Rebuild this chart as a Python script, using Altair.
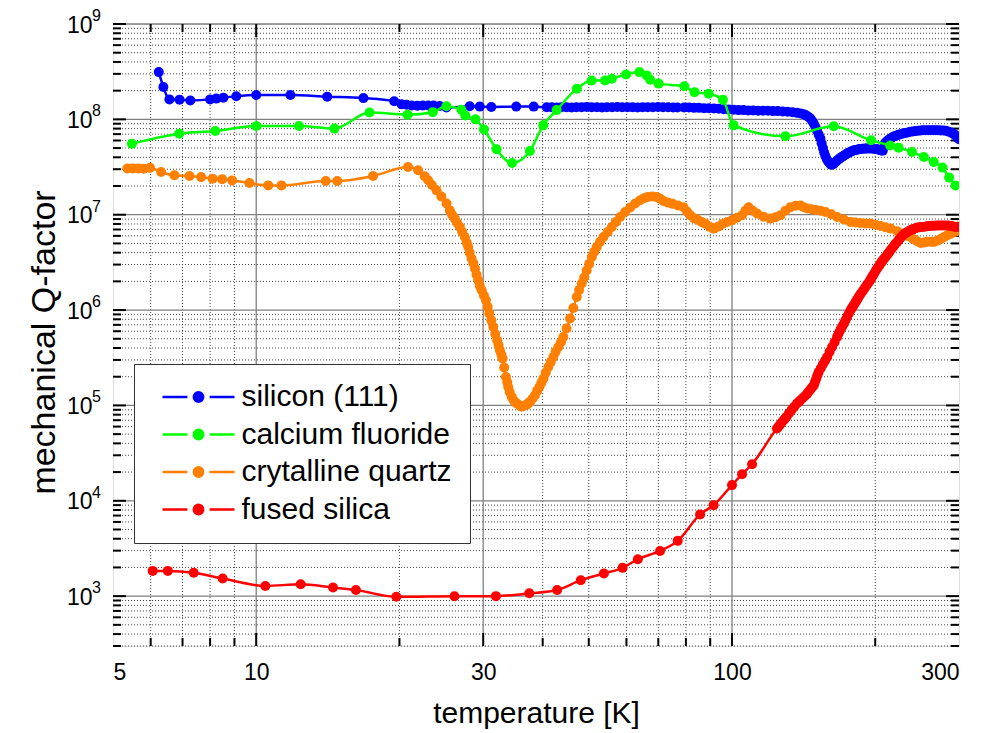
import altair as alt
import pandas as pd

SERIES = ["silicon (111)", "calcium fluoride", "crytalline quartz", "fused silica"]
COLORS = ["#0000ff", "#00ff00", "#ff8000", "#ff0000"]

# (temperature [K], Q) readings taken from the figure
SILICON = [
    (6.24, 3.13e8), (6.38, 2.18e8), (6.57, 1.62e8), (6.90, 1.61e8), (7.27, 1.58e8),
    (8.0, 1.62e8), (8.24, 1.65e8), (8.53, 1.69e8), (9.08, 1.75e8), (10.0, 1.80e8),
    (11.8, 1.80e8), (14.1, 1.73e8), (16.8, 1.67e8), (19.5, 1.55e8), (20.2, 1.44e8),
    (20.7, 1.42e8), (21.2, 1.40e8), (21.8, 1.39e8), (22.4, 1.40e8), (23.0, 1.40e8),
    (23.6, 1.40e8), (24.3, 1.38e8), (25.1, 1.33e8), (28.1, 1.37e8), (29.5, 1.36e8),
    (31.2, 1.35e8), (35.2, 1.36e8), (38.3, 1.36e8), (40.8, 1.34e8), (41.8, 1.34e8),
    (42.8, 1.33e8), (43.8, 1.34e8), (44.9, 1.34e8), (46.0, 1.33e8), (47.1, 1.34e8),
    (48.3, 1.34e8), (49.5, 1.35e8), (50.7, 1.34e8), (52.0, 1.34e8), (53.3, 1.33e8),
    (54.6, 1.34e8), (56.0, 1.34e8), (57.4, 1.35e8), (58.8, 1.34e8), (60.3, 1.34e8),
    (61.8, 1.34e8), (63.3, 1.33e8), (64.9, 1.34e8), (66.5, 1.34e8), (68.2, 1.34e8),
    (69.9, 1.35e8), (71.6, 1.34e8), (73.4, 1.34e8), (75.2, 1.33e8), (76.8, 1.33e8),
    (79.3, 1.33e8), (81.2, 1.33e8), (83.2, 1.32e8), (85.2, 1.32e8), (87.3, 1.31e8),
    (89.4, 1.31e8), (91.6, 1.30e8), (93.8, 1.29e8), (96.1, 1.28e8), (98.4, 1.27e8),
    (100.8, 1.26e8), (103.2, 1.25e8), (105.7, 1.25e8), (108.2, 1.24e8), (110.8, 1.24e8),
    (113.5, 1.23e8), (116.2, 1.23e8), (119.0, 1.23e8), (121.9, 1.22e8), (124.8, 1.22e8),
    (127.8, 1.21e8), (130.8, 1.20e8), (133.9, 1.19e8), (137.0, 1.17e8), (139.5, 1.15e8),
    (141.5, 1.13e8), (142.7, 1.11e8), (144.0, 1.08e8), (145.1, 1.05e8), (146.2, 1.02e8),
    (147.4, 9.6e7), (148.6, 9.0e7), (149.8, 8.3e7), (151.0, 7.6e7), (152.2, 6.9e7),
    (153.4, 6.3e7), (154.3, 5.6e7), (155.3, 5.0e7), (156.2, 4.5e7), (157.2, 4.1e7),
    (158.3, 3.8e7), (159.4, 3.6e7), (160.5, 3.45e7), (161.6, 3.35e7), (162.8, 3.37e7),
    (164.0, 3.45e7), (165.1, 3.57e7), (166.3, 3.7e7), (167.4, 3.8e7), (168.5, 3.9e7),
    (169.5, 3.98e7), (170.5, 4.05e7), (171.7, 4.15e7), (173.0, 4.25e7), (174.3, 4.35e7),
    (175.6, 4.45e7), (176.8, 4.53e7), (178.0, 4.6e7), (179.2, 4.67e7), (180.4, 4.73e7),
    (181.8, 4.77e7), (183.3, 4.8e7), (184.7, 4.85e7), (186.2, 4.9e7), (187.7, 4.92e7),
    (189.2, 4.93e7), (190.7, 4.94e7), (192.3, 4.95e7), (193.9, 4.95e7), (195.5, 4.95e7),
    (197.1, 4.94e7), (198.8, 4.93e7), (200.4, 4.9e7), (202.0, 4.85e7), (203.5, 4.8e7),
    (205.0, 4.75e7), (206.2, 4.72e7), (207.5, 4.7e7), (209.5, 5.6e7), (210.9, 5.8e7),
    (212.4, 6.0e7), (213.9, 6.15e7), (215.4, 6.3e7), (217.1, 6.45e7), (218.8, 6.6e7),
    (220.6, 6.7e7), (222.4, 6.8e7), (224.2, 6.9e7), (226.0, 7.0e7), (228.7, 7.1e7),
    (231.4, 7.2e7), (234.2, 7.3e7), (237.0, 7.4e7), (240.0, 7.48e7), (243.0, 7.55e7),
    (246.0, 7.6e7), (249.0, 7.65e7), (252.1, 7.68e7), (255.2, 7.7e7), (258.4, 7.7e7),
    (261.6, 7.7e7), (264.8, 7.7e7), (268.0, 7.7e7), (271.2, 7.68e7), (274.5, 7.65e7),
    (277.9, 7.63e7), (281.3, 7.6e7), (284.7, 7.45e7), (288.2, 7.3e7), (290.6, 7.15e7),
    (293.0, 7.0e7), (295.3, 6.75e7), (297.7, 6.5e7), (300.0, 6.2e7),
]

CAF2 = [
    (5.48, 5.56e7), (6.89, 7.08e7), (8.2, 7.54e7), (10.0, 8.5e7), (12.3, 8.5e7),
    (14.6, 8.0e7), (17.3, 1.18e8), (20.8, 1.12e8), (23.5, 1.19e8), (25.1, 1.37e8),
    (27.0, 1.26e8), (27.5, 1.10e8), (28.9, 1.0e8), (30.1, 7.85e7), (32.0, 4.85e7),
    (34.5, 3.48e7), (37.6, 4.66e7), (40.1, 8.65e7), (42.8, 1.25e8), (47.2, 2.1e8),
    (50.7, 2.56e8), (54.1, 2.56e8), (55.9, 2.67e8), (59.9, 2.96e8), (63.9, 3.13e8),
    (66.2, 2.89e8), (67.3, 2.6e8), (70.1, 2.37e8), (79.4, 2.22e8), (83.4, 1.93e8),
    (89.3, 1.86e8), (95.7, 1.61e8), (100.8, 8.65e7), (129.5, 6.64e7), (163.6, 8.45e7),
    (196.0, 6.03e7), (215.0, 5.33e7), (224.0, 5.05e7), (239.0, 4.54e7), (253.0, 4.03e7),
    (265.5, 3.57e7), (277.0, 3.12e7), (286.0, 2.45e7), (295.0, 2.03e7),
]

QUARTZ = [
    (5.36, 3.05e7), (5.5, 3.06e7), (5.65, 3.05e7), (5.8, 3.04e7), (5.98, 3.1e7),
    (6.31, 2.8e7), (6.73, 2.59e7), (7.24, 2.55e7), (7.66, 2.48e7), (8.1, 2.39e7),
    (8.48, 2.36e7), (8.9, 2.29e7), (9.68, 2.15e7), (10.6, 2.03e7), (11.3, 2.03e7),
    (14.0, 2.26e7), (14.8, 2.26e7), (17.6, 2.55e7), (20.85, 3.16e7), (21.89, 2.92e7),
    (22.6, 2.53e7), (22.98, 2.30e7), (23.4, 2.05e7), (23.93, 1.80e7), (24.5, 1.55e7),
    (25.12, 1.31e7), (25.52, 1.11e7), (25.8, 1.0e7), (26.15, 9.1e6), (26.45, 8.2e6),
    (26.79, 7.43e6), (27.1, 6.6e6), (27.45, 5.83e6), (27.7, 5.1e6), (27.9, 4.58e6),
    (28.1, 4.0e6), (28.36, 3.47e6), (28.6, 3.1e6), (28.83, 2.72e6), (29.05, 2.35e6),
    (29.29, 2.05e6), (29.5, 1.8e6), (29.78, 1.61e6), (30.1, 1.42e6), (30.4, 1.27e6),
    (30.65, 1.08e6), (30.89, 9.2e5), (31.2, 7.8e5), (31.49, 6.65e5), (31.8, 5.6e5),
    (32.1, 4.82e5), (32.3, 4.3e5), (32.52, 3.78e5), (32.75, 3.4e5), (32.95, 3.1e5),
    (33.2, 2.5e5), (33.48, 1.99e5), (33.7, 1.75e5), (33.86, 1.56e5), (34.1, 1.38e5),
    (34.42, 1.23e5), (34.8, 1.12e5), (35.27, 1.05e5), (35.8, 1.0e5), (36.1, 9.7e4),
    (36.42, 9.8e4), (37.0, 1.02e5), (37.3, 1.05e5), (37.62, 1.09e5), (38.1, 1.18e5),
    (38.54, 1.28e5), (38.95, 1.42e5), (39.36, 1.56e5), (39.75, 1.73e5), (40.13, 1.91e5),
    (40.6, 2.2e5), (41.11, 2.53e5), (41.6, 2.85e5), (42.12, 3.22e5), (42.6, 3.65e5),
    (43.15, 4.1e5), (43.7, 4.6e5), (44.21, 5.22e5), (44.9, 6.4e5), (45.67, 8.15e5),
    (46.4, 1.05e6), (47.18, 1.37e6), (47.7, 1.62e6), (48.34, 1.9e6), (48.9, 2.2e6),
    (49.5, 2.6e6), (50.1, 3.05e6), (50.74, 3.6e6), (51.35, 4.1e6), (51.98, 4.58e6),
    (52.8, 5.2e6), (53.67, 5.83e6), (54.8, 6.6e6), (55.9, 7.43e6), (57.0, 8.4e6),
    (58.2, 9.46e6), (59.6, 1.07e7), (61.1, 1.19e7), (62.6, 1.31e7), (64.1, 1.42e7),
    (65.3, 1.49e7), (66.5, 1.53e7), (68.0, 1.55e7), (69.5, 1.53e7), (70.6, 1.47e7),
    (71.8, 1.39e7), (73.4, 1.34e7), (75.0, 1.3e7), (77.0, 1.25e7), (79.1, 1.2e7),
    (80.4, 1.08e7), (81.7, 9.86e6), (83.2, 9.2e6), (84.8, 8.8e6), (86.3, 8.4e6),
    (87.9, 8.07e6), (89.7, 7.5e6), (91.5, 7.15e6), (93.5, 7.5e6), (95.5, 8.0e6),
    (97.7, 8.4e6), (100.0, 8.73e6), (102.5, 9.3e6), (105.0, 9.86e6), (106.7, 1.1e7),
    (108.4, 1.2e7), (110.6, 1.1e7), (112.9, 1.03e7), (116.5, 9.5e6), (120.4, 9.1e6),
    (123.4, 9.4e6), (126.4, 9.86e6), (129.5, 1.1e7), (132.7, 1.2e7), (136.0, 1.24e7),
    (139.3, 1.25e7), (141.6, 1.2e7), (143.9, 1.16e7), (147.0, 1.14e7), (150.0, 1.12e7),
    (153.5, 1.1e7), (157.2, 1.07e7), (161.7, 1.01e7), (166.3, 9.46e6), (171.8, 8.9e6),
    (177.5, 8.38e6), (181.7, 8.3e6), (186.0, 8.2e6), (190.7, 8.1e6), (195.5, 8.07e6),
    (200.2, 7.85e6), (205.0, 7.6e6), (210.1, 7.4e6), (215.4, 7.15e6), (222.5, 6.7e6),
    (229.7, 6.34e6), (234.8, 5.95e6), (240.0, 5.6e6), (244.5, 5.3e6), (249.1, 5.05e6),
    (253.0, 5.1e6), (257.0, 5.2e6), (261.2, 5.2e6), (265.5, 5.18e6), (270.2, 5.35e6),
    (275.0, 5.6e6), (279.2, 5.85e6), (283.5, 6.08e6), (287.7, 6.3e6), (292.0, 6.5e6),
    (296.0, 6.7e6), (299.9, 6.86e6),
]

SILICA = [
    (6.06, 1.84e3), (6.52, 1.84e3), (7.39, 1.76e3), (8.5, 1.53e3), (10.45, 1.28e3),
    (12.4, 1.33e3), (14.5, 1.23e3), (16.2, 1.16e3), (19.7, 984), (26.1, 998),
    (31.9, 1.0e3), (37.5, 1.07e3), (42.9, 1.16e3), (48.1, 1.47e3), (53.8, 1.73e3),
    (58.9, 1.98e3), (63.4, 2.44e3), (70.6, 2.98e3), (76.9, 3.8e3), (85.7, 7.2e3),
    (91.5, 9.0e3), (100.0, 1.46e4), (105.0, 1.9e4), (110.2, 2.42e4), (124.3, 5.72e4),
    (125.3, 6.0e4), (126.3, 6.3e4), (127.3, 6.65e4), (128.4, 7.0e4), (129.3, 7.3e4),
    (130.2, 7.6e4), (131.8, 8.3e4), (133.5, 9.0e4), (135.2, 9.7e4), (137.0, 1.05e5),
    (138.7, 1.11e5), (140.5, 1.18e5), (142.2, 1.25e5), (143.9, 1.33e5), (145.0, 1.4e5),
    (146.2, 1.47e5), (147.4, 1.55e5), (148.6, 1.63e5), (149.4, 1.76e5), (150.3, 1.9e5),
    (151.2, 2.07e5), (152.1, 2.24e5), (153.7, 2.45e5), (155.3, 2.7e5), (156.9, 2.95e5),
    (158.5, 3.22e5), (160.4, 3.65e5), (162.3, 4.1e5), (164.3, 4.6e5), (166.3, 5.22e5),
    (167.6, 5.7e5), (169.0, 6.2e5), (170.4, 6.7e5), (171.8, 7.2e5), (173.2, 7.8e5),
    (174.6, 8.5e5), (176.0, 9.2e5), (177.5, 9.96e5), (178.6, 1.05e6), (179.8, 1.1e6),
    (180.9, 1.16e6), (182.0, 1.22e6), (183.1, 1.28e6), (184.3, 1.35e6), (185.4, 1.42e6),
    (186.6, 1.49e6), (188.5, 1.6e6), (190.4, 1.72e6), (192.3, 1.85e6), (194.2, 1.97e6),
    (195.4, 2.08e6), (196.6, 2.2e6), (197.8, 2.3e6), (199.0, 2.42e6), (200.5, 2.58e6),
    (202.0, 2.75e6), (203.6, 2.9e6), (205.2, 3.07e6), (206.4, 3.2e6), (207.7, 3.35e6),
    (208.9, 3.48e6), (210.2, 3.6e6), (211.5, 3.75e6), (212.8, 3.9e6), (214.1, 4.07e6),
    (215.4, 4.24e6), (217.1, 4.47e6), (218.9, 4.7e6), (220.6, 4.95e6), (222.4, 5.18e6),
    (224.2, 5.45e6), (226.0, 5.7e6), (227.8, 5.97e6), (229.7, 6.23e6), (231.5, 6.4e6),
    (233.3, 6.55e6), (235.1, 6.72e6), (237.0, 6.86e6), (239.0, 6.98e6), (241.0, 7.1e6),
    (243.0, 7.22e6), (245.0, 7.33e6), (248.0, 7.4e6), (251.0, 7.45e6), (254.0, 7.5e6),
    (257.0, 7.55e6), (260.0, 7.6e6), (263.5, 7.65e6), (266.7, 7.68e6), (270.0, 7.7e6),
    (273.3, 7.7e6), (276.7, 7.7e6), (280.1, 7.7e6), (283.5, 7.7e6), (286.2, 7.65e6),
    (289.0, 7.6e6), (292.0, 7.53e6), (295.0, 7.45e6), (297.5, 7.47e6), (300.0, 7.5e6),
]

DATA = [SILICON, CAF2, QUARTZ, SILICA]

# axis / grid values
Y_MAJOR = [1e3, 1e4, 1e5, 1e6, 1e7, 1e8, 1e9]
Y_EXPONENTS = ["3", "4", "5", "6", "7", "8", "9"]
Y_MINOR = [m * 10 ** k for k in range(2, 9) for m in range(2, 10) if 300 <= m * 10 ** k < 1e9]
X_LABELS = [5, 10, 30, 100, 300]
X_MAJOR = [10, 30, 100]
X_MINOR = [6, 7, 8, 9, 20, 40, 50, 60, 70, 80, 90, 200]

W, H = 846, 622
FONT = "Liberation Sans"

xs = alt.Scale(type="log", domain=[5, 300], nice=False)
ys = alt.Scale(type="log", domain=[300, 1e9], nice=False)
cscale = alt.Scale(domain=SERIES, range=COLORS)

SYMBOL = "M-6,0L-1.85,0M1.85,0L6,0M-0.78,0A0.78,0.78,0,1,0,0.78,0A0.78,0.78,0,1,0,-0.78,0Z"
legend = alt.Legend(
    orient="none", legendX=21, legendY=340, title=None, padding=18,
    strokeColor="#333333", fillColor="white",
    symbolType=SYMBOL, symbolSize=144, symbolStrokeWidth=2.5,
    symbolOffset=31.5, labelOffset=28, labelFontSize=30, labelFont=FONT,
    labelColor="black", labelLimit=500, rowPadding=7.5,
)

y_axis = alt.Axis(
    values=Y_MAJOR, labelExpr="'10'",
    title="mechanical Q-factor", ticks=False, domain=False, grid=False,
    labelFontSize=23, labelFont=FONT, labelColor="black", labelPadding=21,
    labelOffset=1,
    titleFontSize=34, titleFont=FONT, titleFontWeight="normal", titleColor="black",
    titlePadding=5, titleY=318,
)
x_axis = alt.Axis(
    values=X_LABELS, format="d", title="temperature [K]", ticks=False, domain=False,
    grid=False, labelFontSize=23, labelFont=FONT, labelColor="black", labelPadding=15,
    titleFontSize=30, titleFont=FONT, titleFontWeight="normal", titleColor="black",
    titlePadding=14,
)


def X(field):
    return alt.X(field, scale=xs, axis=x_axis)


def Y(field):
    return alt.Y(field, scale=ys, axis=y_axis)


layers = []

# minor grid (dotted)
layers.append(alt.Chart(pd.DataFrame({"v": Y_MINOR})).mark_rule(
    color="#444444", strokeWidth=1, strokeDash=[1, 2]).encode(
    y=Y("v:Q"), x=alt.value(0), x2=alt.value(W)))
layers.append(alt.Chart(pd.DataFrame({"v": X_MINOR})).mark_rule(
    color="#444444", strokeWidth=1, strokeDash=[1, 2]).encode(
    x=X("v:Q"), y=alt.value(0), y2=alt.value(H)))
# major grid (solid)
layers.append(alt.Chart(pd.DataFrame({"v": Y_MAJOR})).mark_rule(
    color="#808080", strokeWidth=1.3).encode(
    y=Y("v:Q"), x=alt.value(0), x2=alt.value(W)))
layers.append(alt.Chart(pd.DataFrame({"v": X_MAJOR})).mark_rule(
    color="#808080", strokeWidth=1.3).encode(
    x=X("v:Q"), y=alt.value(0), y2=alt.value(H)))

# inward ticks on all four sides
for vals, L in ((Y_MAJOR, 13), (Y_MINOR, 8)):
    df = pd.DataFrame({"v": vals})
    layers.append(alt.Chart(df).mark_rule(color="black", strokeWidth=2).encode(
        y=Y("v:Q"), x=alt.value(0), x2=alt.value(L)))
    layers.append(alt.Chart(df).mark_rule(color="black", strokeWidth=2).encode(
        y=Y("v:Q"), x=alt.value(W), x2=alt.value(W - L)))
for vals, L in ((X_MAJOR, 13), (X_MINOR, 8)):
    df = pd.DataFrame({"v": vals})
    layers.append(alt.Chart(df).mark_rule(color="black", strokeWidth=2).encode(
        x=X("v:Q"), y=alt.value(H), y2=alt.value(H - L)))
    layers.append(alt.Chart(df).mark_rule(color="black", strokeWidth=2).encode(
        x=X("v:Q"), y=alt.value(0), y2=alt.value(L)))

# exponent of the y tick labels (10^n)
layers.append(alt.Chart(pd.DataFrame({"v": Y_MAJOR, "e": Y_EXPONENTS})).mark_text(
    align="left", baseline="middle", fontSize=16, font=FONT, color="black", dy=-8).encode(
    y=Y("v:Q"), x=alt.value(-21), text="e:N"))

# data series
for name, pts in zip(SERIES, DATA):
    pts = sorted(pts)
    df = pd.DataFrame({"T": [p[0] for p in pts], "Q": [p[1] for p in pts], "series": name})
    layers.append(alt.Chart(df).mark_line(strokeWidth=2.5, interpolate="monotone", clip=True).encode(
        x=X("T:Q"), y=Y("Q:Q"),
        color=alt.Color("series:N", scale=cscale, legend=legend)))
    layers.append(alt.Chart(df).mark_circle(size=100, opacity=1, clip=True).encode(
        x=X("T:Q"), y=Y("Q:Q"),
        fill=alt.Fill("series:N", scale=cscale, legend=legend)))

chart = alt.layer(*layers).properties(
    width=W, height=H,
    autosize=alt.AutoSizeParams(type="none"),
    padding={"left": 113, "top": 24, "right": 31, "bottom": 87},
    background="white",
).configure_view(stroke="black", strokeWidth=2.5).configure(font=FONT)

chart.save("out.html", embed_options={"renderer": "svg", "actions": False})
